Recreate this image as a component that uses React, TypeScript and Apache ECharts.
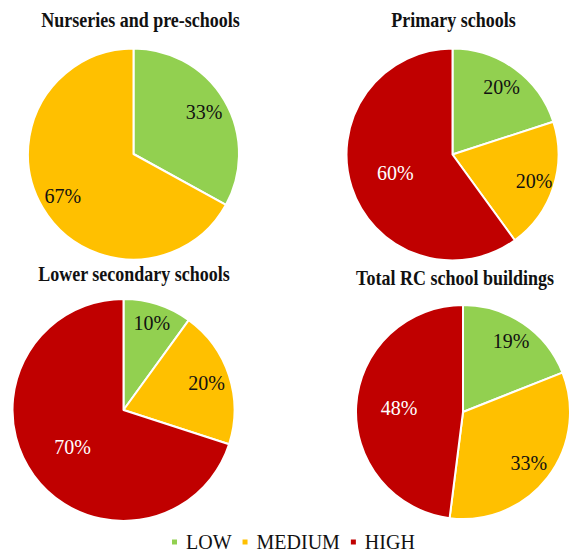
import React, { useEffect, useRef } from 'react';
import * as echarts from 'echarts';

const levels = ['LOW', 'MEDIUM', 'HIGH'];
const levelColors = ['#92D050', '#FFC000', '#C00000'];
const labelColors = ['#111111', '#111111', '#FFFFFF'];

const chartTitles = [
  'Nurseries and pre-schools',
  'Primary schools',
  'Lower secondary schools',
  'Total RC school buildings',
];
const nurseries = [33, 67];
const primary = [20, 20, 60];
const lowerSecondary = [10, 20, 70];
const totalRC = [19, 33, 48];

// layout only (pixel geometry, label depth as fraction of radius)
const layout = [
  { cx: 133.5, cy: 154, r: 105.5, tx: 140.5, ty: 20, depth: [0.75, 0.75] },
  { cx: 452.5, cy: 154.5, r: 106, tx: 453.5, ty: 20, depth: [0.76, 0.78, 0.54] },
  { cx: 123.5, cy: 410, r: 111, tx: 134, ty: 274, depth: [0.8, 0.76, 0.54] },
  { cx: 463, cy: 412, r: 107, tx: 455, ty: 278.5, depth: [0.77, 0.75, 0.57] },
];

const serif = 'Liberation Serif';

export default function App() {
  const ref = useRef<HTMLDivElement>(null);
  useEffect(() => {
    if (!ref.current) return;
    const chart = echarts.init(ref.current, undefined, { renderer: 'svg' });
    const datasets = [nurseries, primary, lowerSecondary, totalRC];
    const baseSeries: any[] = [];
    const labelSeries: any[] = [];
    const graphics: any[] = [];
    datasets.forEach((values, p) => {
      const L = layout[p];
      baseSeries.push({
        type: 'pie',
        center: [L.cx, L.cy],
        radius: [0, L.r],
        startAngle: 90,
        clockwise: true,
        silent: true,
        label: { show: false },
        labelLine: { show: false },
        itemStyle: { borderColor: '#FFFFFF', borderWidth: 2 },
        emphasis: { disabled: true },
        data: values.map((v, i) => ({
          name: levels[i],
          value: v,
          itemStyle: { color: levelColors[i] },
        })),
      });
      const depths = Array.from(new Set(L.depth));
      depths.forEach((f) => {
        labelSeries.push({
          type: 'pie',
          center: [L.cx, L.cy],
          radius: [L.r * (2 * f - 1), L.r],
          startAngle: 90,
          clockwise: true,
          silent: true,
          emphasis: { disabled: true },
          labelLine: { show: false },
          itemStyle: { color: 'rgba(0,0,0,0)', borderWidth: 0 },
          label: {
            position: 'inside',
            formatter: '{c}%',
            fontFamily: serif,
            fontSize: 20,
          },
          data: values.map((v, i) => ({
            name: levels[i],
            value: v,
            itemStyle: { color: 'rgba(0,0,0,0)' },
            label: {
              show: L.depth[i] === f,
              position: 'inside',
              formatter: '{c}%',
              color: labelColors[i],
              fontFamily: serif,
              fontSize: 20,
              fontWeight: 'normal',
            },
          })),
        });
      });
      graphics.push({
        type: 'text',
        x: L.tx,
        y: L.ty,
        z: 100,
        scaleY: 1.12,
        originX: 0,
        originY: 0,
        style: {
          text: chartTitles[p],
          fontFamily: serif,
          fontWeight: 'bold',
          fontSize: 18,
          fill: '#111111',
          textAlign: 'center',
          textVerticalAlign: 'middle',
        },
      });
    });

    chart.setOption({
      animation: false,
      backgroundColor: '#FFFFFF',
      legend: {
        left: 170,
        top: 532,
        padding: 0,
        icon: 'rect',
        itemWidth: 7,
        itemHeight: 7,
        itemGap: 9,
        selectedMode: false,
        data: levels.map((n, i) => ({ name: n, itemStyle: { color: levelColors[i] } })),
        textStyle: {
          fontFamily: serif,
          fontSize: 20,
          lineHeight: 20,
          color: '#111111',
          padding: [0, 0, 0, 3],
        },
      },
      graphic: graphics,
      series: [...baseSeries, ...labelSeries],
    });
    return () => chart.dispose();
  }, []);
  return (
    <div
      ref={ref}
      style={{ position: 'fixed', left: 0, top: 0, width: 571, height: 553, background: '#FFFFFF' }}
    />
  );
}
